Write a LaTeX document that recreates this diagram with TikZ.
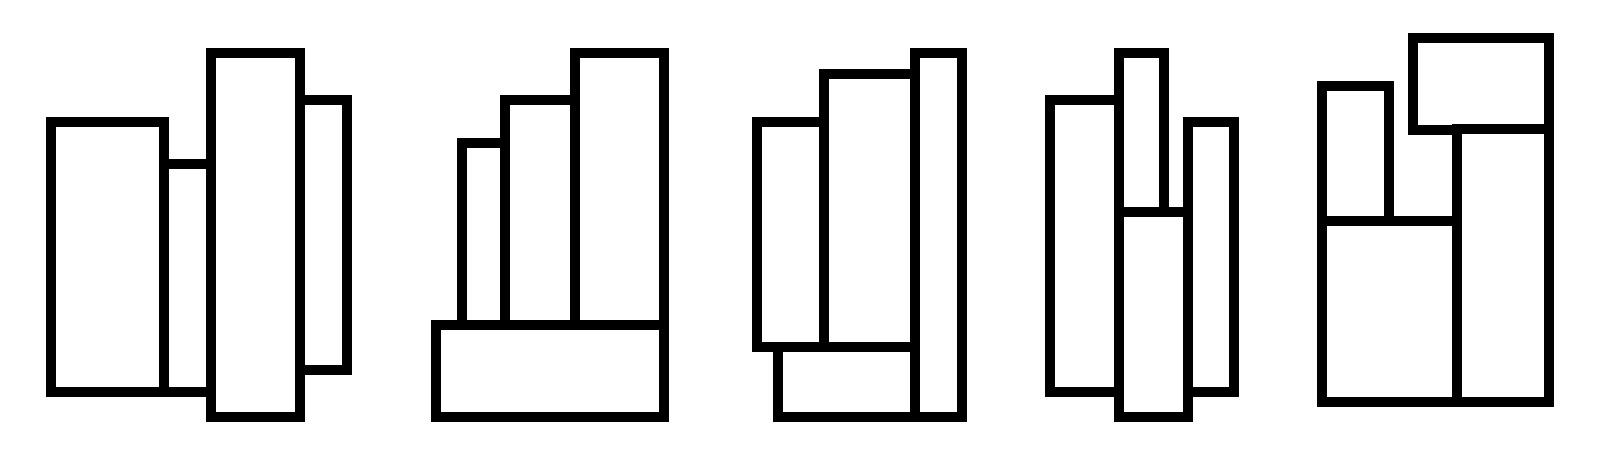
\documentclass[tikz,border=0pt]{standalone}
\usepackage{tikz}

\begin{document}
\begin{tikzpicture}[scale=1,slab/.style={draw=black,fill=white,line width=0.1cm}]
	\useasboundingbox (0,0) rectangle (16.08,4.53);
	% first group
	\draw[slab] (0.51,3.31) rectangle (1.64,0.61);
	\draw[slab] (1.635,2.885) rectangle (2.11,0.61);
	\draw[slab] (3.00,3.53) rectangle (3.47,0.83);
	\draw[slab] (2.11,4.00) rectangle (3.00,0.36);
	% second group
	\draw[slab] (4.36,1.28) rectangle (6.64,0.36);
	\draw[slab] (4.62,3.10) rectangle (5.05,1.28);
	\draw[slab] (5.05,3.525) rectangle (5.75,1.28);
	\draw[slab] (5.75,4.00) rectangle (6.64,1.28);
	% third group
	\draw[slab] (7.57,3.31) rectangle (8.24,1.06);
	\draw[slab] (8.24,3.79) rectangle (9.15,1.06);
	\draw[slab] (7.78,1.06) rectangle (9.15,0.36);
	\draw[slab] (9.15,4.00) rectangle (9.62,0.36);
	% fourth group
	\draw[slab] (10.50,3.53) rectangle (11.19,0.61);
	\draw[slab] (11.19,4.00) rectangle (11.64,2.41);
	\draw[slab] (11.19,2.41) rectangle (11.88,0.36);
	\draw[slab] (11.88,3.31) rectangle (12.34,0.61);
	% fifth group
	\draw[slab] (13.215,3.67) rectangle (13.89,2.32);
	\draw[slab] (13.215,2.32) rectangle (14.57,0.51);
	\draw[slab] (14.125,4.15) rectangle (15.49,3.225);
	\draw[slab] (14.57,3.24) rectangle (15.49,0.51);
\end{tikzpicture}
\end{document}
